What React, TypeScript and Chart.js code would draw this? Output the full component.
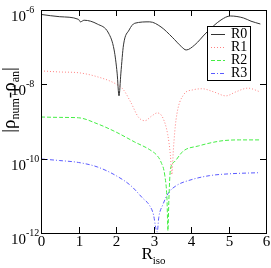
import React, { useEffect, useRef } from "react";
import { Chart, registerables } from "chart.js";

Chart.register(...registerables);

const seriesNames = ["R0", "R1", "R2", "R3"];

const xR0 = [0, 0.5, 1.0, 1.05, 1.15, 1.5, 1.8, 1.95, 2.03, 2.08, 2.13, 2.2, 2.35, 2.5, 2.9, 3.2, 3.5, 3.75, 3.87, 4.1, 4.4, 4.8, 5.05, 5.4, 5.6, 5.85];
const yR0 = [7.6e-7, 6.6e-7, 5.6e-7, 4.8e-7, 5.3e-7, 4.2e-7, 2.4e-7, 8.4e-8, 2.0e-8, 4.9e-9, 2.0e-8, 1.15e-7, 2.9e-7, 4.4e-7, 4.8e-7, 3.5e-7, 1.85e-7, 1.02e-7, 8.4e-8, 1.15e-7, 2.4e-7, 5.4e-7, 6.9e-7, 6.1e-7, 5.0e-7, 4.2e-7];

const xR1 = [0, 0.5, 1.0, 1.5, 2.0, 2.2, 2.4, 2.6, 2.77, 2.95, 3.1, 3.25, 3.38, 3.45, 3.49, 3.53, 3.6, 3.8, 4.05, 4.3, 4.6, 4.93, 5.2, 5.52, 5.84];
const yR1 = [2.3e-8, 2.15e-8, 2.05e-8, 1.6e-8, 1.02e-8, 7.1e-9, 3.2e-9, 1.3e-9, 1.05e-9, 1.4e-9, 1.7e-9, 1.25e-9, 4.4e-10, 1.25e-10, 3.7e-11, 1.75e-10, 1.1e-9, 5.2e-9, 7.1e-9, 7.6e-9, 6.3e-9, 4.9e-9, 6.3e-9, 7.9e-9, 6.3e-9];

const xR2 = [0, 0.5, 1.0, 1.5, 2.0, 2.5, 2.9, 3.1, 3.2, 3.3, 3.36, 3.385, 3.41, 3.45, 3.55, 3.8, 4.2, 4.8, 5.3, 5.84];
const yR2 = [1.32e-9, 1.29e-9, 1.26e-9, 8.7e-10, 5.2e-10, 2.8e-10, 1.74e-10, 1.2e-10, 8.1e-11, 3.6e-11, 7.9e-12, 1.15e-12, 7.9e-12, 5.0e-11, 8.1e-11, 1.62e-10, 2.2e-10, 3.0e-10, 3.2e-10, 3.2e-10];

const xR3 = [0, 0.5, 1.0, 1.5, 2.0, 2.4, 2.7, 2.9, 3.0, 3.07, 3.1, 3.14, 3.25, 3.4, 3.6, 4.0, 4.5, 5.0, 5.84];
const yR3 = [9.8e-11, 8.9e-11, 7.9e-11, 6.0e-11, 3.5e-11, 1.86e-11, 8.9e-12, 5.4e-12, 3.1e-12, 1.23e-12, 1.07e-12, 2.6e-12, 5.8e-12, 1.2e-11, 1.86e-11, 2.7e-11, 3.5e-11, 3.9e-11, 4.2e-11];

const xTicks = [0, 1, 2, 3, 4, 5, 6];
const yTickExps = [-6, -8, -10, -12];

const seriesX = [xR0, xR1, xR2, xR3];
const seriesY = [yR0, yR1, yR2, yR3];
const colors = ["#333333", "#ff8080", "#44ee44", "#5a5aff"];
const dashes: number[][] = [[], [1, 2], [4, 2], [4, 2, 1, 2]];

const SERIF = "'Liberation Serif', 'DejaVu Serif', serif";

const decorPlugin = {
  id: "decor",
  afterDraw(chart: any) {
    const ctx = chart.ctx as CanvasRenderingContext2D;
    const { left, right, top, bottom } = chart.chartArea;
    const xs = chart.scales.x;
    const ys = chart.scales.y;
    ctx.save();
    ctx.strokeStyle = "#000";
    ctx.lineWidth = 1;
    ctx.setLineDash([]);
    ctx.strokeRect(Math.round(left) + 0.5, Math.round(top) + 0.5, Math.round(right - left), Math.round(bottom - top));
    ctx.fillStyle = "#000";
    // x ticks
    ctx.font = `15px ${SERIF}`;
    ctx.textAlign = "center";
    ctx.textBaseline = "alphabetic";
    xTicks.forEach((t) => {
      const px = Math.round(xs.getPixelForValue(t)) + 0.5;
      ctx.beginPath();
      ctx.moveTo(px, bottom);
      ctx.lineTo(px, bottom - 6);
      ctx.moveTo(px, top);
      ctx.lineTo(px, top + 6);
      ctx.stroke();
      ctx.fillText(String(t), px, bottom + 13);
    });
    // y ticks
    yTickExps.forEach((e) => {
      const py = Math.round(ys.getPixelForValue(Math.pow(10, e))) + 0.5;
      ctx.beginPath();
      ctx.moveTo(left, py);
      ctx.lineTo(left + 6, py);
      ctx.moveTo(right, py);
      ctx.lineTo(right - 6, py);
      ctx.stroke();
      ctx.font = `15px ${SERIF}`;
      ctx.textAlign = "right";
      ctx.fillText("10", 26, py + 10);
      ctx.font = `10px ${SERIF}`;
      ctx.textAlign = "left";
      ctx.fillText(String(e), 26, py + 2);
    });
    // x title
    ctx.textAlign = "left";
    ctx.font = `17px ${SERIF}`;
    const rW = ctx.measureText("R").width;
    ctx.font = `11px ${SERIF}`;
    const isoW = ctx.measureText("iso").width;
    const startX = (left + right) / 2 - (rW + isoW) / 2;
    ctx.font = `17px ${SERIF}`;
    ctx.fillText("R", startX, 259);
    ctx.font = `11px ${SERIF}`;
    ctx.fillText("iso", startX + rW, 264);
    // y title
    const parts: [string, boolean][] = [["|\u03c1", false], ["num", true], ["-\u03c1", false], ["an", true], ["|", false]];
    let total = 0;
    parts.forEach(([s, sub]) => {
      ctx.font = sub ? `12px ${SERIF}` : `19px ${SERIF}`;
      total += ctx.measureText(s).width;
    });
    ctx.translate(15, 100);
    ctx.rotate(-Math.PI / 2);
    let cx = -total / 2;
    parts.forEach(([s, sub]) => {
      ctx.font = sub ? `12px ${SERIF}` : `19px ${SERIF}`;
      ctx.fillText(s, cx, sub ? 4 : 0);
      cx += ctx.measureText(s).width;
    });
    ctx.restore();

    // legend
    ctx.save();
    const bx = 207.5, by = 26.5, bw = 43, bh = 54;
    ctx.fillStyle = "#fff";
    ctx.fillRect(bx, by, bw, bh);
    ctx.strokeStyle = "#000";
    ctx.lineWidth = 1;
    ctx.strokeRect(bx, by, bw, bh);
    const rowY = [34, 47, 60, 73];
    seriesNames.forEach((name, i) => {
      const y = rowY[i] + 0.5;
      ctx.strokeStyle = colors[i];
      ctx.setLineDash(dashes[i]);
      ctx.beginPath();
      ctx.moveTo(211, y);
      ctx.lineTo(225, y);
      ctx.stroke();
      ctx.setLineDash([]);
      ctx.fillStyle = "#000";
      ctx.font = `14px ${SERIF}`;
      ctx.textAlign = "left";
      ctx.textBaseline = "middle";
      ctx.fillText(name, 231, rowY[i] + 0.5);
    });
    ctx.restore();
  },
};

export default function App() {
  const ref = useRef<HTMLCanvasElement>(null);
  useEffect(() => {
    document.body.style.margin = "0";
    const datasets = seriesNames.map((name, i) => ({
      label: name,
      data: seriesX[i].map((x, j) => ({ x, y: seriesY[i][j] })),
      borderColor: colors[i],
      borderWidth: 1,
      borderDash: dashes[i],
      pointRadius: 0,
      fill: false,
      cubicInterpolationMode: "monotone" as const,
    }));
    const chart = new Chart(ref.current!, {
      type: "line",
      data: { datasets },
      options: {
        animation: false,
        responsive: false,
        maintainAspectRatio: false,
        layout: { padding: { left: 41, top: 10, right: 5, bottom: 35 } },
        plugins: { legend: { display: false }, tooltip: { enabled: false } },
        scales: {
          x: { type: "linear", min: 0, max: 6, display: false },
          y: { type: "logarithmic", min: 1e-12, max: 1e-6, display: false },
        },
      },
      plugins: [decorPlugin],
    });
    return () => chart.destroy();
  }, []);
  return <canvas ref={ref} width={271} height={268} style={{ display: "block" }} />;
}
